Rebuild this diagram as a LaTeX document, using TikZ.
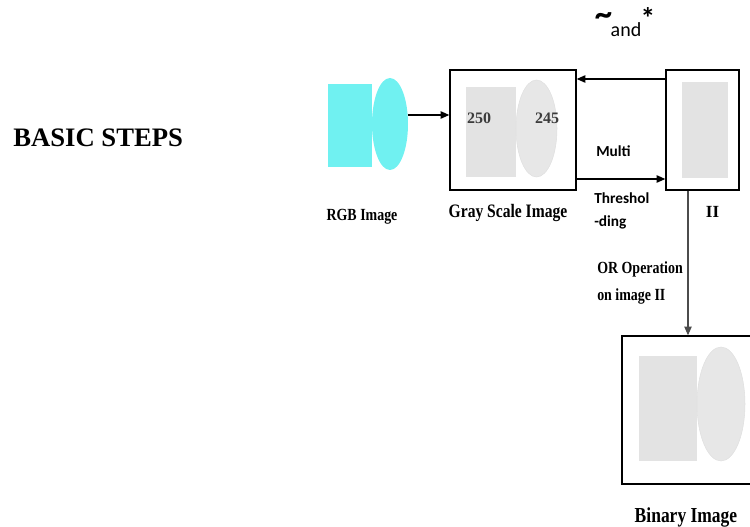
\documentclass[tikz,border=0pt]{standalone}
\usepackage{fontspec}
\setmainfont{Liberation Serif}
\newfontfamily\narrowserif[FakeStretch=0.82]{Liberation Serif}
\newfontfamily\calibrisans{Carlito}
\usetikzlibrary{arrows.meta,shapes.geometric}

\definecolor{rgbcyan}{RGB}{112,241,241}
\definecolor{scalegray}{RGB}{227,227,227}
\definecolor{ellgray}{RGB}{231,231,231}
\definecolor{numgray}{RGB}{60,60,60}

\begin{document}
\begin{tikzpicture}[x=0.75pt,y=-0.75pt,>={Triangle[length=6.5pt,width=5.5pt]},
  frame/.style={draw,line width=1pt,inner sep=0pt,minimum height=90pt},
  patch/.style={fill=scalegray,inner sep=0pt},
  blob/.style={ellipse,fill=ellgray,draw=black!12,inner sep=0pt},
  caption/.style={font=\narrowserif\bfseries\fontsize{#1}{#1}\selectfont,inner sep=0pt,anchor=base},
  note/.style={font=\calibrisans\bfseries\fontsize{11.5}{17.25}\selectfont,inner sep=0pt,align=left}]
  \clip (0,0) rectangle (750,527);

  \node[anchor=base west,inner sep=0pt,font=\bfseries\fontsize{20}{24}\selectfont] (title) at (13,147) {BASIC STEPS};

  % colour image
  \node[fill=rgbcyan,inner sep=0pt,minimum width=33pt,minimum height=62.25pt] (rgbrect) at (350,125.5) {};
  \node[ellipse,fill=rgbcyan,inner sep=0pt,minimum width=27pt,minimum height=69pt] (rgbell) at (390,124) {};
  \node[caption=12.75] (rgblabel) at (362,221) {RGB Image};

  % gray scale image
  \node[frame,minimum width=94.5pt] (gray) at (513,130) {};
  \node[patch,minimum width=37.5pt,minimum height=67.5pt] (grayrect) at (491,132) {};
  \node[blob,minimum width=30.75pt,minimum height=72.75pt] (grayell) at (536.5,128.5) {};
  \node[text=numgray,font=\bfseries\fontsize{12}{12}\selectfont,inner sep=0pt] (val1) at (479,118) {250};
  \node[text=numgray,font=\bfseries\fontsize{12}{12}\selectfont,inner sep=0pt] (val2) at (547,118) {245};
  \node[caption=14.25] (graylabel) at (508,218) {Gray Scale Image};

  % image II
  \node[frame,minimum width=54.75pt] (two) at (702.5,130) {};
  \node[patch,minimum width=34.5pt,minimum height=72pt] (tworect) at (705,130) {};
  \node[anchor=base,inner sep=0pt,font=\bfseries\fontsize{12.75}{12.75}\selectfont] (twolabel) at (712.5,218) {II};

  % binary image
  \node[draw,line width=1pt,inner sep=0pt,minimum width=99pt,minimum height=111pt] (bin) at (688,410) {};
  \node[patch,minimum width=43.5pt,minimum height=78.75pt] (binrect) at (668,408.5) {};
  \node[blob,minimum width=36pt,minimum height=85.5pt] (binell) at (721,404) {};
  \node[caption=16] (binlabel) at (686,522) {Binary Image};

  % operators above the boxes
  \node[inner sep=0pt,font=\calibrisans\bfseries\fontsize{26}{26}\selectfont] (tilde) at (603.5,19) {\textasciitilde};
  \node[anchor=base,inner sep=0pt,font=\calibrisans\fontsize{15}{15}\selectfont] (andword) at (626,37) {and};
  \node[inner sep=0pt,font=\calibrisans\bfseries\fontsize{22}{22}\selectfont] (star) at (648,18) {*};

  % arrows between the images
  \draw[->,line width=1pt] ([yshift=6.75pt]rgbell.east) -- ([yshift=11.25pt]gray.west);
  \draw[->,line width=1pt] ([yshift=38.25pt]two.west) -- ([yshift=38.25pt]gray.east);
  \draw[->,line width=1pt] ([yshift=-36.75pt]gray.east) -- ([yshift=-36.75pt]two.west);
  \draw[->,line width=0.8pt,draw=black!70] (two.south -| bin.north) -- (bin.north);

  \node[note,anchor=base west] (multi) at (596,157) {Multi};
  \node[note,anchor=north west] (thresh) at (594,192) {Threshol\\-ding};
  \node[font=\narrowserif\bfseries\fontsize{12.75}{20.25}\selectfont,inner sep=0pt,align=left,anchor=north west] (orop) at (597,261) {OR Operation\\on image II};
\end{tikzpicture}
\end{document}
